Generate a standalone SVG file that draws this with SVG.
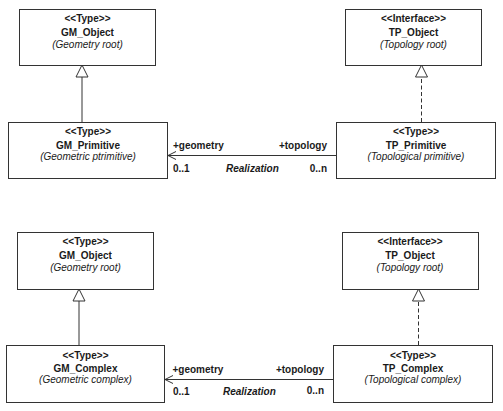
<svg xmlns="http://www.w3.org/2000/svg" width="503" height="411" viewBox="0 0 503 411">
<style>
  .box { fill: #fff; stroke: #333; stroke-width: 1; }
  text { font-family: "Liberation Sans", Arial, sans-serif; font-size: 10px; fill: #1a1a1a; }
  .st { font-weight: bold; text-anchor: middle; }
  .nm { font-weight: bold; text-anchor: middle; }
  .ds { font-style: italic; text-anchor: middle; }
  .lb { font-weight: bold; }
  .rl { font-weight: bold; font-style: italic; }
  .end { text-anchor: end; }
  .ln { fill: none; stroke: #333; stroke-width: 1; }
  .dash { stroke-dasharray: 4 2.5; }
</style>
<defs>
  <marker id="tri" markerUnits="userSpaceOnUse" markerWidth="14" markerHeight="14" refX="12" refY="6" orient="auto" overflow="visible">
    <path d="M0,0 L12,6 L0,12 Z" fill="#fff" stroke="#333" stroke-width="1"/>
  </marker>
  <marker id="open" markerUnits="userSpaceOnUse" markerWidth="10" markerHeight="10" refX="8" refY="4" orient="auto" overflow="visible">
    <path d="M0,0 L8,4 L0,8" fill="none" stroke="#333" stroke-width="1"/>
  </marker>
</defs>

<g id="connectors">
  <line class="ln" x1="82" y1="122" x2="82" y2="65" marker-end="url(#tri)"/>
  <line class="ln dash" x1="421.5" y1="122" x2="421.5" y2="65" marker-end="url(#tri)"/>
  <line class="ln" x1="336" y1="155.5" x2="168" y2="155.5" marker-end="url(#open)"/>
  <line class="ln" x1="79" y1="345" x2="79" y2="289" marker-end="url(#tri)"/>
  <line class="ln dash" x1="418.5" y1="345" x2="418.5" y2="289" marker-end="url(#tri)"/>
  <line class="ln" x1="333" y1="379.5" x2="165" y2="379.5" marker-end="url(#open)"/>
  <text class="lb" x="173" y="149">+geometry</text>
  <text class="lb end" x="327" y="149">+topology</text>
  <text class="lb" x="173" y="172">0..1</text>
  <text class="lb end" x="327" y="172">0..n</text>
  <text class="rl" x="226" y="172">Realization</text>
  <text class="lb" x="172.5" y="373">+geometry</text>
  <text class="lb end" x="324" y="373">+topology</text>
  <text class="lb" x="173" y="395">0..1</text>
  <text class="lb end" x="324" y="394">0..n</text>
  <text class="rl" x="223" y="395">Realization</text>
</g>

<g id="gm-object-1">
  <rect class="box" x="19.5" y="9.5" width="136" height="56"/>
  <text class="st" x="87.5" y="22">&lt;&lt;Type&gt;&gt;</text>
  <text class="nm" x="87.5" y="36">GM_Object</text>
  <text class="ds" x="87.5" y="48">(Geometry root)</text>
</g>
<g id="gm-primitive">
  <rect class="box" x="8.5" y="122.5" width="159" height="56"/>
  <text class="st" x="88" y="135">&lt;&lt;Type&gt;&gt;</text>
  <text class="nm" x="88" y="149">GM_Primitive</text>
  <text class="ds" x="88" y="160">(Geometric ptrimitive)</text>
</g>
<g id="tp-object-1">
  <rect class="box" x="345.5" y="9.5" width="136" height="56"/>
  <text class="st" x="413.5" y="22">&lt;&lt;Interface&gt;&gt;</text>
  <text class="nm" x="413.5" y="36">TP_Object</text>
  <text class="ds" x="413.5" y="48">(Topology root)</text>
</g>
<g id="tp-primitive">
  <rect class="box" x="336.5" y="122.5" width="159" height="56"/>
  <text class="st" x="416" y="135">&lt;&lt;Type&gt;&gt;</text>
  <text class="nm" x="416" y="149">TP_Primitive</text>
  <text class="ds" x="416" y="160">(Topological primitive)</text>
</g>

<g id="gm-object-2">
  <rect class="box" x="17.5" y="232.5" width="136" height="57"/>
  <text class="st" x="85.5" y="245">&lt;&lt;Type&gt;&gt;</text>
  <text class="nm" x="85.5" y="259">GM_Object</text>
  <text class="ds" x="85.5" y="271">(Geometry root)</text>
</g>
<g id="gm-complex">
  <rect class="box" x="6.5" y="345.5" width="158" height="57"/>
  <text class="st" x="85.5" y="359">&lt;&lt;Type&gt;&gt;</text>
  <text class="nm" x="85.5" y="372">GM_Complex</text>
  <text class="ds" x="85.5" y="383">(Geometric complex)</text>
</g>
<g id="tp-object-2">
  <rect class="box" x="342.5" y="232.5" width="136" height="57"/>
  <text class="st" x="410" y="245">&lt;&lt;Interface&gt;&gt;</text>
  <text class="nm" x="410" y="259">TP_Object</text>
  <text class="ds" x="410" y="271">(Topology root)</text>
</g>
<g id="tp-complex">
  <rect class="box" x="333.5" y="345.5" width="159" height="57"/>
  <text class="st" x="413" y="359">&lt;&lt;Type&gt;&gt;</text>
  <text class="nm" x="413" y="372">TP_Complex</text>
  <text class="ds" x="413" y="383">(Topological complex)</text>
</g>
</svg>
